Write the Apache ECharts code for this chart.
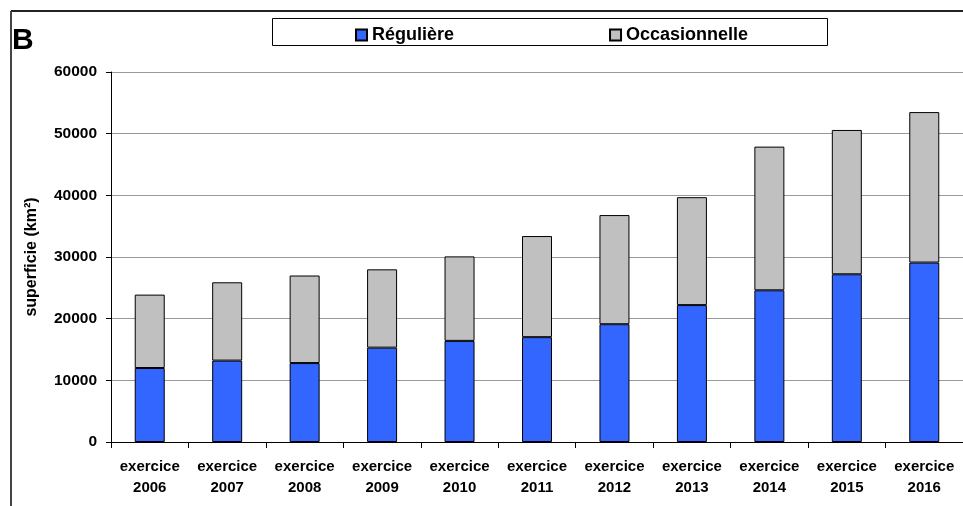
<!DOCTYPE html>
<html>
<head>
<meta charset="utf-8">
<script src="https://cdn.jsdelivr.net/npm/echarts@6/dist/echarts.min.js"></script>
<style>
html,body{margin:0;padding:0;background:#fff;}
#main{width:963px;height:506px;}
</style>
</head>
<body>
<div id="main"></div>
<script>
var categories = ['exercice\n2006','exercice\n2007','exercice\n2008','exercice\n2009','exercice\n2010','exercice\n2011','exercice\n2012','exercice\n2013','exercice\n2014','exercice\n2015','exercice\n2016'];
var reguliere = [12000, 13200, 12800, 15300, 16400, 17000, 19100, 22200, 24600, 27200, 29100];
var occasionnelle = [11900, 12700, 14200, 12700, 13700, 16400, 17700, 17500, 23300, 23400, 24400];
var seriesNames = ['Régulière', 'Occasionnelle'];
var yTicks = {min: 0, max: 60000, interval: 10000};

var font = 'Arial, "Liberation Sans", sans-serif';
var chart = echarts.init(document.getElementById('main'));
chart.setOption({
  animation: false,
  backgroundColor: '#fff',
  textStyle: {fontFamily: font},
  graphic: [
    {type: 'line', shape: {x1: 11, y1: 11, x2: 963, y2: 11}, style: {stroke: '#222', lineWidth: 2}},
    {type: 'line', shape: {x1: 11, y1: 11, x2: 11, y2: 506}, style: {stroke: '#444', lineWidth: 2}},
    {type: 'rect', shape: {x: 272.5, y: 18.5, width: 555, height: 27}, style: {fill: '#fff', stroke: '#000', lineWidth: 1}, z: 0},
    {type: 'text', left: 12, top: 26, style: {text: 'B', font: 'bold 30px ' + font, fill: '#000'}}
  ],
  legend: {
    data: seriesNames,
    left: 350,
    top: 21,
    itemWidth: 11,
    itemHeight: 11,
    itemGap: 155,
    icon: 'rect',
    textStyle: {fontSize: 18, fontWeight: 'bold', color: '#000', fontFamily: font},
    z: 5
  },
  grid: {left: 111, right: -4, top: 72, bottom: 64},
  xAxis: {
    type: 'category',
    data: categories,
    axisLine: {lineStyle: {color: '#000', width: 1}},
    axisTick: {show: true, length: 6, lineStyle: {color: '#000'}},
    axisLabel: {fontSize: 15, fontWeight: 'bold', color: '#000', lineHeight: 21, margin: 14, interval: 0, fontFamily: font}
  },
  yAxis: {
    type: 'value',
    min: yTicks.min, max: yTicks.max, interval: yTicks.interval,
    name: 'superficie (km²)',
    nameLocation: 'middle',
    nameGap: 71,
    nameTextStyle: {fontSize: 16, fontWeight: 'bold', color: '#000', fontFamily: font},
    axisLine: {show: true, lineStyle: {color: '#000', width: 1}},
    axisTick: {show: true, length: 5, lineStyle: {color: '#000'}},
    axisLabel: {fontSize: 15.5, fontWeight: 'bold', color: '#000', margin: 14, fontFamily: font,
      formatter: function (v) { return String(v); }},
    splitLine: {show: true, lineStyle: {color: '#999', width: 1}}
  },
  series: [
    {name: seriesNames[0], type: 'bar', stack: 's', data: reguliere, barWidth: 30,
     itemStyle: {color: '#3366FF', borderColor: '#000', borderWidth: 1}},
    {name: seriesNames[1], type: 'bar', stack: 's', data: occasionnelle, barWidth: 30,
     itemStyle: {color: '#C0C0C0', borderColor: '#000', borderWidth: 1}}
  ]
});
</script>
</body>
</html>
